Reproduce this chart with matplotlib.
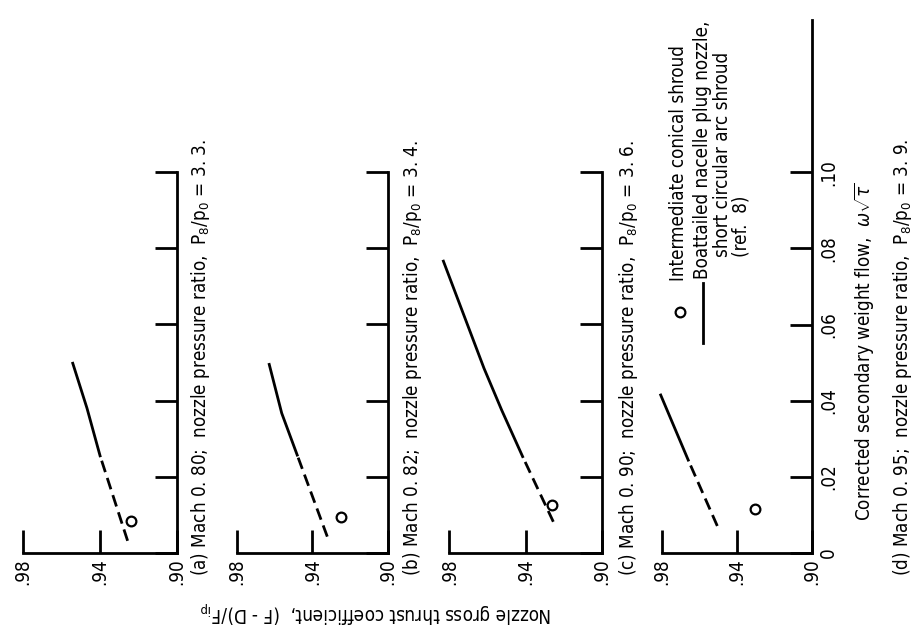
import matplotlib.pyplot as plt
from matplotlib import font_manager

# Panels: Mach number and nozzle pressure ratio
labels = ['a', 'b', 'c', 'd']
mach = ['0. 80', '0. 82', '0. 90', '0. 95']
pressure_ratio = ['3. 3', '3. 4', '3. 6', '3. 9']

# Boattailed nacelle plug nozzle (ref. 8): dashed (extrapolated) and solid parts
dash_w = [[0.0032, 0.0255], [0.0043, 0.0257], [0.0082, 0.0253], [0.0071, 0.0244]]
dash_cf = [[0.9255, 0.9398], [0.9321, 0.9480], [0.9254, 0.9415], [0.9505, 0.9660]]
solid_w = [[0.0255, 0.0380, 0.0498],
           [0.0257, 0.0367, 0.0495],
           [0.0253, 0.0375, 0.0485, 0.0766],
           [0.0244, 0.0415]]
solid_cf = [[0.9398, 0.9466, 0.9540],
            [0.9480, 0.9562, 0.9628],
            [0.9415, 0.9525, 0.9618, 0.9831],
            [0.9660, 0.9807]]

# Intermediate conical shroud
shroud_w = [0.0085, 0.0094, 0.0126, 0.0115]
shroud_cf = [0.9239, 0.9250, 0.9262, 0.9304]

cf_ticks = [0.98, 0.94, 0.90]
cf_ticklabels = ['.98', '.94', '.90']
w_ticks = [0, 0.02, 0.04, 0.06, 0.08, 0.10]
w_ticklabels = ['0', '.02', '.04', '.06', '.08', '.10']

available = {f.name for f in font_manager.fontManager.ttflist}
family = 'Liberation Sans Narrow' if 'Liberation Sans Narrow' in available else 'DejaVu Sans'
plt.rcParams['font.family'] = family
plt.rcParams['font.stretch'] = 'condensed'
plt.rcParams['mathtext.fontset'] = 'custom'
plt.rcParams['mathtext.rm'] = family
plt.rcParams['mathtext.it'] = family + ':italic'

W, H = 915, 636
fig = plt.figure(figsize=(W / 100, H / 100), dpi=100)
fs = 13.5

# page is turned sideways: thrust coefficient runs left→right (.98 → .90),
# weight flow runs bottom→top
boxes = [(22.7, 176.7, 172, 553), (236.7, 388, 172, 553),
         (449.3, 601.7, 172, 553), (662, 812, 20, 553)]
caption_x = [201, 413, 629, 902]

for i, (l, r, t, b) in enumerate(boxes):
    ax = fig.add_axes([l / W, 1 - b / H, (r - l) / W, (b - t) / H])
    ax.set_xlim(0.98, 0.90)
    ax.set_ylim(0, 0.14 if i == 3 else 0.10)
    for s in ['top', 'left']:
        ax.spines[s].set_visible(False)
    for s in ['bottom', 'right']:
        ax.spines[s].set_linewidth(2)
    ax.set_xticks(cf_ticks)
    ax.set_xticklabels(cf_ticklabels)
    ax.tick_params(axis='x', direction='in', length=16.5, width=2,
                   labelrotation=90, pad=4, labelsize=fs)
    ax.yaxis.tick_right()
    ax.set_yticks(w_ticks)
    ax.set_yticklabels(w_ticklabels if i == 3 else [])
    ax.tick_params(axis='y', direction='in', length=16, width=2,
                   labelrotation=90, pad=5, labelsize=fs)
    for lab in ax.get_yticklabels():
        lab.set_verticalalignment('center')

    ax.plot(dash_cf[i], dash_w[i], color='k', lw=2, dashes=(4.3, 2.2), clip_on=False)
    ax.plot(solid_cf[i], solid_w[i], color='k', lw=2, clip_on=False)
    ax.plot(shroud_cf[i], shroud_w[i], 'o', ms=7, mfc='white', mec='k', mew=1.6, clip_on=False)

    fig.text(caption_x[i] / W, 1 - 576 / H,
             f'({labels[i]}) Mach {mach[i]};  nozzle pressure ratio,  '
             r'$\mathrm{P_8/p_0}$' f' = {pressure_ratio[i]}.',
             rotation=90, ha='center', va='bottom', fontsize=fs)

    if i == 3:
        # legend, laid out by hand so it turns with the page
        ax.plot([0.12], [0.452], 'o', ms=7, mfc='white', mec='k', mew=1.6,
                transform=ax.transAxes, clip_on=False)
        ax.plot([0.273, 0.273], [0.394, 0.507], color='k', lw=2,
                transform=ax.transAxes, clip_on=False)
        ax.text(0.107, 0.51, 'Intermediate conical shroud', rotation=90,
                ha='center', va='bottom', transform=ax.transAxes, fontsize=fs)
        ax.text(0.273, 0.514, 'Boattailed nacelle plug nozzle,', rotation=90,
                ha='center', va='bottom', transform=ax.transAxes, fontsize=fs)
        ax.text(0.40, 0.555, 'short circular arc shroud', rotation=90,
                ha='center', va='bottom', transform=ax.transAxes, fontsize=fs)
        ax.text(0.527, 0.555, '(ref.  8)', rotation=90,
                ha='center', va='bottom', transform=ax.transAxes, fontsize=fs)

fig.text(865 / W, 1 - 352 / H, r'Corrected secondary weight flow,  $\omega\sqrt{\tau}$',
         rotation=90, ha='center', va='center', fontsize=fs)
fig.text(376 / W, 1 - 612 / H, r'Nozzle gross thrust coefficient,  (F - D)/$\mathrm{F_{ip}}$',
         rotation=180, ha='center', va='center', fontsize=fs)

fig.savefig('out.png', dpi=100)
